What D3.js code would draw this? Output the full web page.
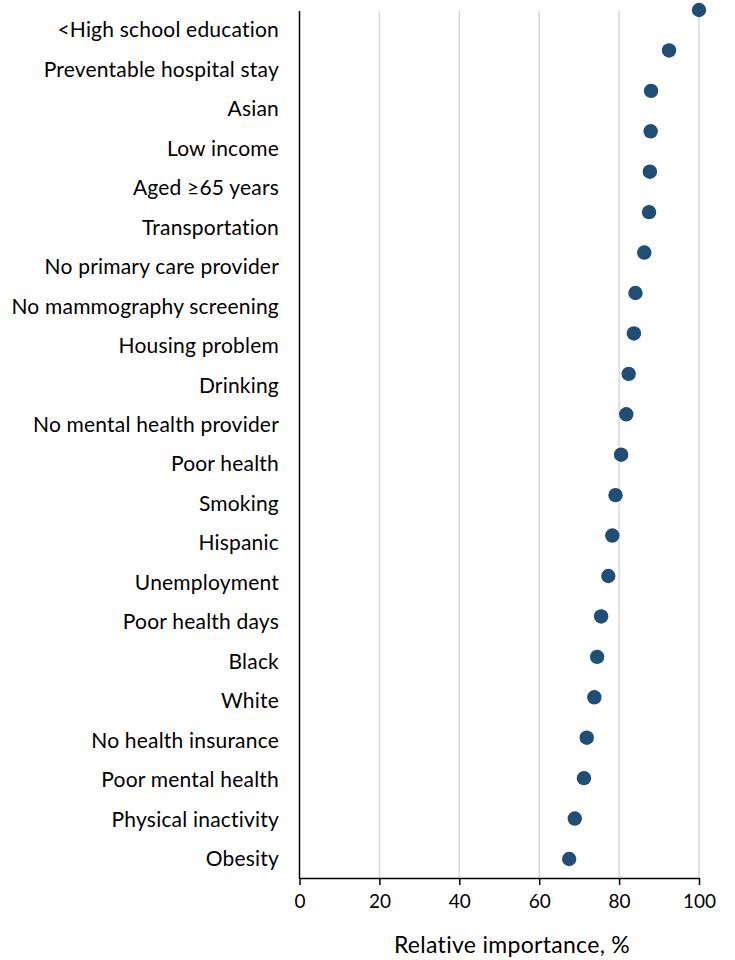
<!DOCTYPE html>
<meta charset="utf-8">
<script src="https://cdn.jsdelivr.net/npm/d3@7"></script>
<style>
  body { margin: 0; background: #fff; }
  text { font-family: Lato, "Open Sans", sans-serif; fill: #000; }
</style>
<div id="chart"></div>
<script>
  // categories, top to bottom
  const categories = ["<High school education", "Preventable hospital stay", "Asian", "Low income",
    "Aged \u226565 years", "Transportation", "No primary care provider", "No mammography screening",
    "Housing problem", "Drinking", "No mental health provider", "Poor health", "Smoking", "Hispanic",
    "Unemployment", "Poor health days", "Black", "White", "No health insurance", "Poor mental health",
    "Physical inactivity", "Obesity"];
  const importance = [100, 92.5, 88.0, 87.9, 87.7, 87.5, 86.3, 84.1, 83.7, 82.4, 81.8, 80.5,
    79.1, 78.3, 77.3, 75.5, 74.5, 73.8, 71.9, 71.2, 68.9, 67.5];
  const xTicks = [0, 20, 40, 60, 80, 100];
  const xTitle = "Relative importance, %";

  const W = 735, H = 960;
  const plotTop = 11, plotBottom = 878;

  const svg = d3.select("#chart").append("svg")
    .attr("width", W).attr("height", H);

  const x = d3.scaleLinear().domain([0, 100]).range([299.5, 699]);
  // dots and labels are not on the same rows in the original
  const yDot = d3.scalePoint().domain(categories).range([10, 859]);
  const yLab = d3.scalePoint().domain(categories).range([30, 859]);

  // gridlines
  svg.append("g").selectAll("line")
    .data(xTicks.filter(d => d > 0))
    .join("line")
      .attr("x1", d => x(d)).attr("x2", d => x(d))
      .attr("y1", plotTop).attr("y2", plotBottom)
      .attr("stroke", "#d9d9d9").attr("stroke-width", 1.5);

  // x axis
  const xAxis = svg.append("g")
    .attr("transform", `translate(0,${plotBottom})`)
    .call(d3.axisBottom(x).tickValues(xTicks).tickSize(7).tickPadding(10).tickSizeOuter(0));
  xAxis.select(".domain").attr("stroke", "#000").attr("stroke-width", 1.5);
  xAxis.selectAll(".tick line").attr("stroke", "#000").attr("stroke-width", 1.5);
  xAxis.selectAll(".tick text").style("font-size", "19px").style("font-family", "Lato, sans-serif").attr("fill", "#000");

  // category labels
  const yAxis = svg.append("g")
    .attr("transform", `translate(279,0)`)
    .call(d3.axisLeft(yLab).tickSize(0).tickPadding(0));
  yAxis.select(".domain").remove();
  yAxis.selectAll(".tick text")
    .style("font-size", "21px").style("letter-spacing", "0.2px")
    .style("font-family", "Lato, sans-serif").attr("fill", "#000");

  // vertical axis line
  svg.append("line")
    .attr("x1", x(0)).attr("x2", x(0))
    .attr("y1", plotTop).attr("y2", plotBottom + 0.75)
    .attr("stroke", "#000").attr("stroke-width", 1.5);

  // dots
  svg.append("g").selectAll("circle")
    .data(categories)
    .join("circle")
      .attr("cx", (d, i) => x(importance[i]))
      .attr("cy", d => yDot(d))
      .attr("r", 7.2)
      .attr("fill", "#1f4e79");

  svg.append("text")
    .attr("x", 512)
    .attr("y", 953)
    .attr("text-anchor", "middle")
    .style("font-size", "23px").style("letter-spacing", "0.3px")
    .text(xTitle);
</script>
